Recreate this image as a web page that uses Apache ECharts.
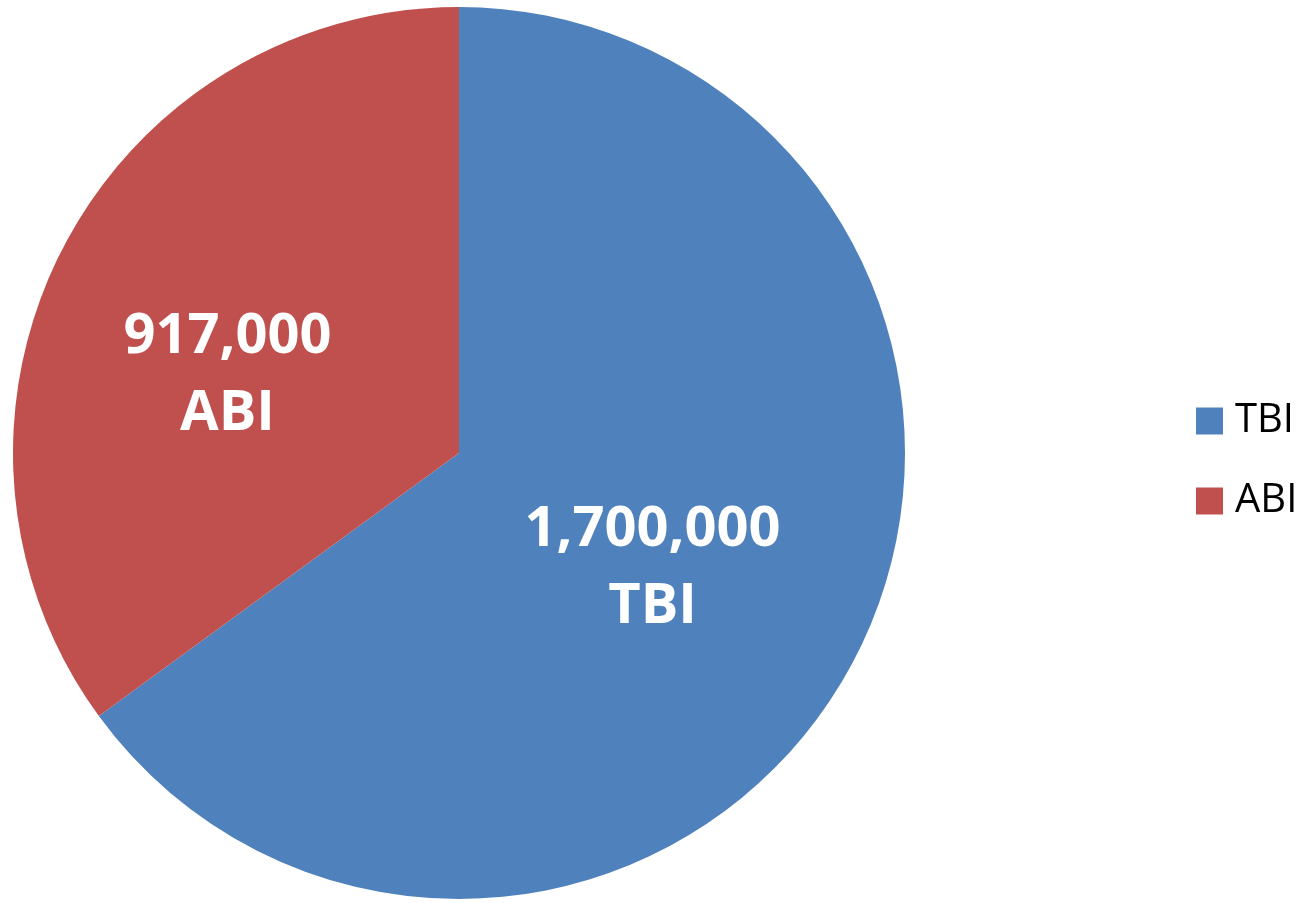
<!DOCTYPE html>
<html>
<head>
<meta charset="utf-8">
<script src="https://cdn.jsdelivr.net/npm/echarts@6/dist/echarts.min.js"></script>
<style>
  html, body { margin: 0; padding: 0; background: #fff; }
  #chart { width: 1311px; height: 903px; }
</style>
</head>
<body>
<div id="chart"></div>
<script>
  // 数据
  var categories = ['TBI', 'ABI']
  var values = [1700000, 917000]
  var labelTexts = ['1,700,000', '917,000']

  // 样式
  var colors = ['#4F81BD', '#C0504D']
  var labelShift = [[-8, 13], [-30, 25]]

  var chart = echarts.init(document.getElementById('chart'))
  chart.setOption({
    animation: false,
    legend: {
      orient: 'vertical',
      left: 1191,
      top: 396,
      itemWidth: 27,
      itemHeight: 27,
      itemGap: 40,
      icon: 'rect',
      textStyle: {
        fontFamily: 'Open Sans',
        fontSize: 40,
        lineHeight: 40,
        color: '#000',
        padding: [0, 0, 0, 7]
      },
      data: categories
    },
    series: [
      {
        type: 'pie',
        center: [459, 453],
        radius: 446,
        startAngle: 90,
        clockwise: true,
        label: {
          show: true,
          position: 'inside',
          color: '#fff',
          fontFamily: 'Open Sans',
          fontWeight: 'bold',
          fontSize: 56,
          lineHeight: 77,
          formatter: function (p) {
            return labelTexts[p.dataIndex] + '\n' + p.name
          }
        },
        labelLine: { show: false },
        emphasis: { disabled: true },
        data: categories.map(function (name, i) {
          return {
            name: name,
            value: values[i],
            itemStyle: { color: colors[i], borderWidth: 0 },
            label: { offset: labelShift[i] }
          }
        })
      }
    ]
  })
</script>
</body>
</html>
